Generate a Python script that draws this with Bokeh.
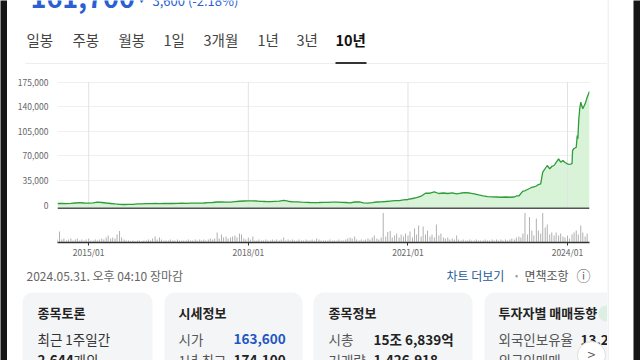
import pandas as pd
from bokeh.plotting import figure
from bokeh.layouts import row, column
from bokeh.models import (Range1d, FixedTicker, NumeralTickFormatter, DatetimeTickFormatter,
                          Span, Label, BoxAnnotation, ColumnDataSource)
from bokeh.embed import file_html
from bokeh.resources import INLINE

# ---------------- data ----------------
# monthly closes 2014-06 .. 2022-12 (KRW)
MONTHLY_PRICE = [
    2300, 2300, 2200, 2400, 3000, 3600, 3000, 2700, 3300, 4100,
    3700, 3000, 2300, 1600, 900, 850, 900, 1100, 1600, 1800,
    2000, 2000, 2300, 2200, 2300, 2400, 2300, 2500, 2600, 2500,
    2700, 2800, 2900, 3000, 3400, 3700, 4400, 4700, 4300, 4100,
    4800, 5500, 5800, 6100, 5900, 5800, 5400, 5100, 5000, 5400,
    5600, 6800, 5500, 4700, 4500, 4100, 3900, 3700, 3600, 3700,
    3900, 4000, 4100, 4100, 3900, 3700, 3300, 4400, 4700, 3300,
    2700, 3400, 4400, 4700, 5100, 5800, 6300, 6500, 7300, 8000,
    9400, 10800, 12700, 16900, 16900, 18700, 16500, 17200, 16500, 17500,
    16100, 17200, 17900, 17200, 16100, 14400, 13200, 12200, 11800, 11500,
    11200, 11500, 11200,
]
LATE_DATES = [
    "2023-01-01", "2023-01-15", "2023-02-01", "2023-02-15", "2023-03-01", "2023-03-15",
    "2023-04-01", "2023-04-15", "2023-05-01", "2023-05-15", "2023-06-01", "2023-06-15",
    "2023-07-01", "2023-07-15", "2023-08-01", "2023-08-15", "2023-09-01", "2023-09-15",
    "2023-10-01", "2023-10-15", "2023-11-01", "2023-11-15", "2023-12-01", "2023-12-15",
    "2024-01-01", "2024-01-15", "2024-02-01", "2024-02-05", "2024-02-15", "2024-03-01",
    "2024-03-08", "2024-03-12", "2024-03-18", "2024-03-25", "2024-04-01", "2024-04-15",
    "2024-05-01", "2024-05-15", "2024-05-31",
]
LATE_PRICE = [
    11500, 13000, 13000, 16500, 19800, 20400,
    22200, 23600, 25500, 25800, 27200, 29300,
    30300, 46800, 52100, 56400, 51700, 55000,
    56400, 60700, 65900, 61100, 63500, 60700,
    58800, 57800, 59000, 78000, 80600, 82400,
    99100, 94400, 120500, 137100, 146500, 137100,
    144200, 153600, 161700,
]
# semi-monthly volume (thousand shares), 2014-06-01 onward
VOLUME = [
    300, 1100, 300, 400, 200, 300, 400, 200, 300, 400,
    200, 300, 200, 300, 400, 200, 200, 300, 200, 300,
    400, 300, 500, 700, 400, 500, 400, 800, 1150, 500,
    300, 200, 200, 150, 200, 150, 200, 200, 150, 200,
    200, 300, 200, 400, 600, 300, 500, 300, 200, 200,
    200, 300, 200, 200, 300, 200, 200, 200, 200, 300,
    200, 200, 300, 200, 300, 200, 300, 200, 300, 400,
    300, 400, 1000, 400, 800, 500, 600, 400, 500, 600,
    700, 500, 900, 800, 400, 300, 500, 300, 600, 200,
    200, 300, 200, 200, 300, 200, 200, 300, 200, 300,
    200, 300, 500, 200, 300, 200, 300, 200, 200, 300,
    200, 200, 300, 200, 200, 300, 200, 400, 300, 200,
    200, 200, 200, 300, 200, 200, 200, 300, 200, 200,
    300, 400, 500, 400, 600, 300, 200, 300, 200, 300,
    400, 300, 500, 700, 400, 300, 500, 2950, 600, 1050,
    1150, 500, 700, 900, 500, 800, 600, 900, 700, 1100,
    500, 1400, 800, 1700, 600, 1600, 800, 1200, 600, 800,
    500, 1800, 700, 900, 500, 400, 500, 300, 400, 300,
    700, 300, 200, 300, 200, 200, 300, 200, 200, 300,
    200, 200, 200, 300, 200, 200, 300, 200, 300, 200,
    300, 200, 300, 200, 300, 400, 300, 500, 600, 500,
    900, 2950, 800, 2550, 1200, 700, 2400, 1200, 900, 2950,
    1500, 1800, 800, 1000, 700, 1000, 700, 900, 600, 500,
    700, 400, 800, 1000, 1200, 800, 1700, 1000, 600, 900,
]
Y_TICKS = [0, 35000, 70000, 105000, 140000, 175000]
X_TICK_LABELS = ["2015/01", "2018/01", "2021/01", "2024/01"]
TABS = ["일봉", "주봉", "월봉", "1일", "3개월", "1년", "3년", "10년"]

KR = "Noto Sans CJK KR"
PRICE_FLOOR = -4400

# ---------------- sources ----------------
price_dates = list(pd.date_range("2014-06-01", "2022-12-01", freq="MS")) + [pd.Timestamp(d) for d in LATE_DATES]
price_vals = MONTHLY_PRICE + LATE_PRICE
psrc = ColumnDataSource(dict(date=price_dates, price=price_vals))
vol_dates = pd.date_range("2014-06-01", periods=len(VOLUME), freq="SMS")
vsrc = ColumnDataSource(dict(date=vol_dates, vol=VOLUME))
tick_dates = [pd.Timestamp(s.replace("/", "-") + "-01") for s in X_TICK_LABELS]
tick_ms = [t.value // 10**6 for t in tick_dates]


def deco_fig(x0, x1, y0, y1, bg="white"):
    f = figure(width=x1 - x0, height=y1 - y0, x_range=Range1d(x0, x1), y_range=Range1d(y1, y0),
               min_border=0, toolbar_location=None, output_backend="svg", title=None,
               x_axis_location=None, y_axis_location=None, frame_align=False)
    f.outline_line_color = None
    f.grid.visible = False
    f.background_fill_color = bg
    f.border_fill_color = bg
    return f


def lab(f, text, x, y, size, color, bold=False, align="left", baseline="middle"):
    f.add_layout(Label(x=x, y=y, text=text, text_font=KR, text_font_size=f"{size}px",
                       text_color=color, text_font_style="bold" if bold else "normal",
                       text_align=align, text_baseline=baseline))


def box(f, l, t, r, b, color, radius=0, line_color=None):
    f.add_layout(BoxAnnotation(left=l, right=r, top=t, bottom=b,
                               fill_color=color, fill_alpha=1.0,
                               line_color=line_color, line_alpha=1.0 if line_color else 0.0,
                               border_radius=radius))


# ---------------- chart (canvas x 7..607, y 64..262; frame x 57..589, y 78..242) ----------------
p = figure(width=600, height=198, x_axis_type="datetime", output_backend="svg", toolbar_location=None,
           title=None, frame_align=False,
           x_range=Range1d(pd.Timestamp("2014-06-01"), pd.Timestamp("2024-05-31")),
           y_range=Range1d(-53260, 180270),
           min_border_left=50, min_border_right=18, min_border_top=14, min_border_bottom=20)
p.outline_line_color = None
p.background_fill_color = "white"
p.border_fill_color = "white"
p.extra_y_ranges = {"vol": Range1d(0, 16400)}

yt = FixedTicker(ticks=Y_TICKS)
p.yaxis.ticker = yt
p.ygrid.ticker = yt
p.yaxis.formatter = NumeralTickFormatter(format="0,0")
p.yaxis.axis_line_color = None
p.yaxis.major_tick_line_color = None
p.yaxis.minor_tick_line_color = None
p.yaxis.major_label_standoff = 3
p.yaxis.major_label_text_font = KR
p.yaxis.major_label_text_font_size = "8.5px"
p.yaxis.major_label_text_color = "#666666"
p.ygrid.grid_line_color = "#efefef"
p.xgrid.grid_line_color = None

p.xaxis.ticker = FixedTicker(ticks=tick_ms)
p.xaxis.formatter = DatetimeTickFormatter(years="%Y/%m", months="%Y/%m", days="%Y/%m",
                                          hours="%Y/%m", minutes="%Y/%m")
p.xaxis.axis_line_color = "#333333"
p.xaxis.axis_line_width = 1.5
p.xaxis.major_tick_line_color = "#333333"
p.xaxis.major_tick_out = 3
p.xaxis.major_tick_in = 0
p.xaxis.minor_tick_line_color = None
p.xaxis.major_label_standoff = 0
p.xaxis.major_label_text_font = KR
p.xaxis.major_label_text_font_size = "8.5px"
p.xaxis.major_label_text_color = "#666666"

p.varea(x="date", y1=PRICE_FLOOR, y2="price", source=psrc, fill_color="#d9f3d9")
p.segment(x0=tick_dates, y0=PRICE_FLOOR, x1=tick_dates, y1=Y_TICKS[-1],
          line_color="#e2e2e2", line_width=1)
p.line(x="date", y="price", source=psrc, line_color="#2f9c3a", line_width=1.3)
p.add_layout(Span(location=PRICE_FLOOR, dimension="width", line_color="#555555", line_width=1.5))
p.segment(x0="date", y0=0, x1="date", y1="vol", source=vsrc, y_range_name="vol",
          line_color="#b0b0b0", line_width=1)

# ---------------- header (canvas x 7..607, y 0..64) ----------------
top = deco_fig(7, 607, 0, 64)
lab(top, "161,700", 30, -3, 27, "#2b5fd3", bold=True, baseline="alphabetic")
lab(top, "▼", 141, -1, 9, "#2b5fd3", align="center")
lab(top, "3,600 (-2.18%)", 152, 0, 13, "#2b5fd3", baseline="alphabetic")
tab_x = [26, 72, 118, 163, 203, 257, 296, 335]
for t, x in zip(TABS, tab_x):
    if t == "10년":
        lab(top, t, x, 38.5, 14.5, "#111111", bold=True)
    else:
        lab(top, t, x, 38.5, 14.5, "#444444")
box(top, 25, 62.6, 607, 63.6, "#eeeeee")
box(top, 335, 61.5, 366, 63.5, "#333333")

# ---------------- footer (canvas x 7..607, y 262..360) ----------------
bot = deco_fig(7, 607, 262, 360)
lab(bot, "2024.05.31. 오후 04:10 장마감", 26, 274.5, 12, "#666666")
lab(bot, "차트 더보기", 446, 274.5, 12, "#1f5a96")
lab(bot, "•", 516, 274.5, 9, "#999999", align="center")
lab(bot, "면책조항", 524, 274.5, 12, "#555555")
lab(bot, "ⓘ", 583, 274.5, 14, "#666666", align="center")

card_bg = "#f4f5f7"
box(bot, 22, 292, 152, 400, card_bg, radius=10)
box(bot, 164, 292, 302, 400, card_bg, radius=10)
box(bot, 313, 292, 472, 400, card_bg, radius=10)
box(bot, 484, 292, 660, 400, card_bg, radius=10)
box(bot, 598, 305, 614, 321, "#dcefe2", radius=8)

lab(bot, "종목토론", 37, 312, 13, "#222222", bold=True)
lab(bot, "최근 1주일간", 37, 338, 13.5, "#333333")
lab(bot, "2,644", 37, 359.5, 13.5, "#222222", bold=True)
lab(bot, "개의", 73, 359.5, 13.5, "#333333")

lab(bot, "시세정보", 178, 312, 13, "#222222", bold=True)
lab(bot, "시가", 178, 338, 13.5, "#555555")
lab(bot, "163,600", 233, 338, 13.5, "#1f56c2", bold=True)
lab(bot, "1년 최고", 178, 359.5, 13.5, "#555555")
lab(bot, "174,100", 233, 359.5, 13.5, "#222222", bold=True)

lab(bot, "종목정보", 328, 312, 13, "#222222", bold=True)
lab(bot, "시총", 328, 338, 13.5, "#555555")
lab(bot, "15조 6,839억", 373, 338, 13.5, "#222222", bold=True)
lab(bot, "거래량", 328, 359.5, 13.5, "#555555")
lab(bot, "1,426,918", 373, 359.5, 13.5, "#222222", bold=True)

lab(bot, "투자자별 매매동향", 498, 312, 13, "#222222", bold=True)
lab(bot, "외국인보유율", 498, 338, 13.5, "#555555")
lab(bot, "13.29%", 580, 338, 13.5, "#222222", bold=True)
lab(bot, "외국인매매", 498, 359.5, 13.5, "#555555")

box(bot, 577, 341, 605, 369, "#ffffff", radius=14, line_color="#dddddd")
lab(bot, ">", 591, 353, 14, "#555555", align="center")

# ---------------- side strips ----------------
left = deco_fig(0, 7, 0, 360, bg="#161616")
right = deco_fig(607, 640, 0, 360, bg="#ffffff")
box(right, 607, -10, 608, 370, "#e3e3e3")
box(right, 633, -10, 650, 370, "#161616")

layout = row(left, column(top, p, bot), right)
open("out.html", "w").write(file_html(layout, INLINE))
